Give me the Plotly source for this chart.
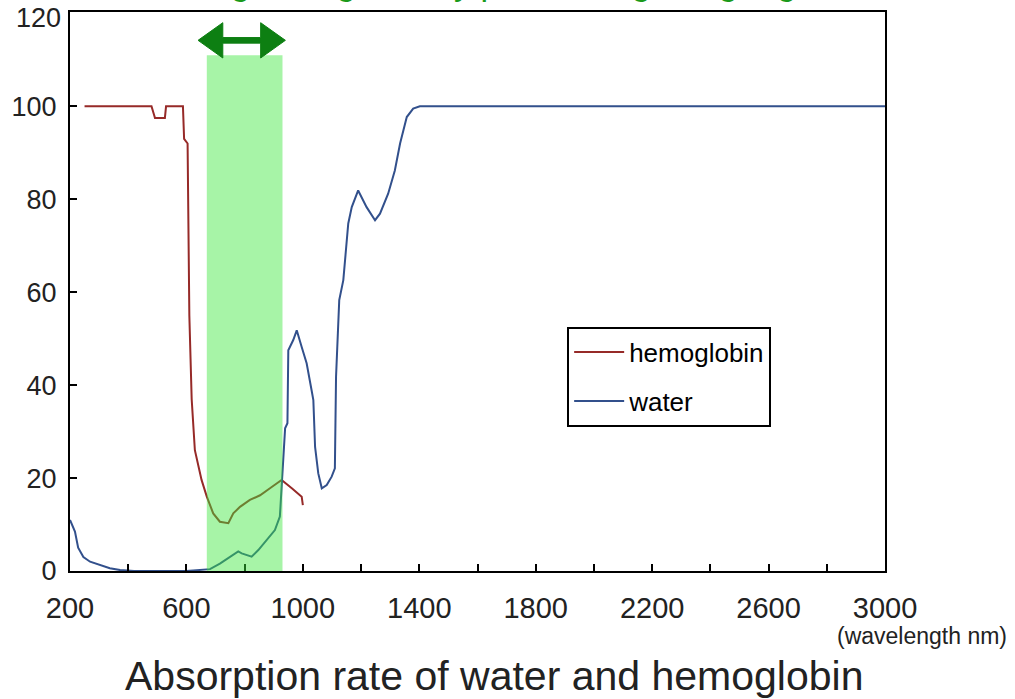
import plotly.graph_objects as go

# ---------------- data ----------------
hemo_x = [250, 480, 492, 526, 530, 588, 592, 604, 610, 618, 629, 652, 670, 692, 715, 744,
          761, 784, 818, 853, 887, 927, 962, 996, 1000]
hemo_y = [100, 100, 97.5, 97.5, 100, 100, 93, 92, 55, 37, 26, 19.6, 16, 12.4, 10.6, 10.3,
          12.4, 13.8, 15.3, 16.3, 17.8, 19.6, 17.8, 16, 14.2]

water_x = [200, 210, 217, 228, 246, 269, 303, 337, 372, 420, 600, 681, 715, 750, 778, 790,
           824, 847, 876, 904, 921, 927, 933, 939, 947, 950, 967, 979, 996, 1013, 1030, 1036,
           1042, 1053, 1065, 1082, 1099, 1110, 1114, 1125, 1139, 1156, 1168, 1190, 1219, 1248,
           1265, 1293, 1316, 1334, 1357, 1379, 1402, 3000]
water_y = [11, 9.5, 8.5, 5, 3, 2, 1.3, 0.6, 0.2, 0, 0, 0.4, 1.6, 3.1, 4.2, 3.8,
           3.1, 4.5, 6.7, 8.8, 11.7, 18.1, 23.9, 30.7, 31.8, 47.5, 49.7, 51.8, 48.2, 44.7, 38.9, 36.8,
           26.7, 21, 17.8, 18.5, 20.3, 22.1, 41.8, 58.3, 62.6, 74.8, 78.3, 81.9, 78.3, 75.5,
           76.9, 81.2, 86.2, 92, 97.7, 99.5, 100, 100]

x_tickvals = list(range(200, 3001, 200))
x_ticktext = ["200", "", "600", "", "1000", "", "1400", "", "1800", "", "2200", "", "2600", "", "3000"]
y_tickvals = [0, 20, 40, 60, 80, 100, 120]

series_names = ["hemoglobin", "water"]

# highlighted wavelength band (nm) and its top
band_start, band_end, band_top = 670, 930, 111
# double arrow above the band
arrow_left, arrow_right, arrow_y = 640, 940, 114.2
head_len, head_half, shaft_half = 85, 3.8, 0.6

title_text = "Absorption rate of water and hemoglobin"
unit_text = "(wavelength nm)"
top_text = "Wavelength range easily penetrating living organisms"

# ---------------- figure ----------------
fig = go.Figure()
fig.add_trace(go.Scatter(x=hemo_x, y=hemo_y, mode="lines", name=series_names[0],
                         line=dict(color="#962a28", width=2), legendgroup="a"))
fig.add_trace(go.Scatter(x=water_x, y=water_y, mode="lines", name=series_names[1],
                         line=dict(color="#32508c", width=2), legendgroup="b"))

# green band overlay
fig.add_shape(type="rect", xref="x", yref="y", x0=band_start, x1=band_end, y0=0, y1=band_top,
              fillcolor="rgba(60,230,60,0.45)", line=dict(width=0), layer="above")

L, R, Y = arrow_left, arrow_right, arrow_y
path = (f"M {L},{Y} L {L+head_len},{Y+head_half} L {L+head_len},{Y+shaft_half} "
        f"L {R-head_len},{Y+shaft_half} L {R-head_len},{Y+head_half} L {R},{Y} "
        f"L {R-head_len},{Y-head_half} L {R-head_len},{Y-shaft_half} "
        f"L {L+head_len},{Y-shaft_half} L {L+head_len},{Y-head_half} Z")
fig.add_shape(type="path", xref="x", yref="y", path=path, fillcolor="#0d7f12",
              line=dict(color="#0d7f12", width=1), layer="above")

font_family = "Liberation Sans, Arial, sans-serif"

fig.update_layout(
    width=1015, height=699,
    margin=dict(l=70, r=130, t=12, b=128, autoexpand=False),
    paper_bgcolor="white", plot_bgcolor="white",
    showlegend=True,
    legend=dict(x=0.61, y=0.437, xanchor="left", yanchor="top",
                bgcolor="white", bordercolor="black", borderwidth=2,
                font=dict(family=font_family, size=26, color="black"),
                tracegroupgap=12, traceorder="grouped", itemwidth=50),
    font=dict(family=font_family, color="#222"),
)

fig.update_xaxes(range=[200, 3000], tickvals=x_tickvals, ticktext=x_ticktext,
                 ticks="inside", ticklen=7, tickwidth=2, tickcolor="black",
                 showline=True, linecolor="black", linewidth=2, mirror=True,
                 showgrid=False, zeroline=False, ticklabelstandoff=10, automargin=False,
                 tickfont=dict(size=29, family=font_family, color="#222"))
fig.update_yaxes(range=[0, 120.3], tickvals=y_tickvals[:-1],
                 ticks="inside", ticklen=7, tickwidth=2, tickcolor="black",
                 showline=True, linecolor="black", linewidth=2, mirror=True,
                 showgrid=False, zeroline=False, ticklabelstandoff=6, automargin=False,
                 tickfont=dict(size=27, family=font_family, color="#222"))

# top y tick label (plotly hides it at the plot edge)
fig.add_annotation(text=str(y_tickvals[-1]), xref="paper", yref="y", x=0, y=y_tickvals[-1],
                   xanchor="right", yanchor="middle", xshift=-7, yshift=-5, showarrow=False,
                   font=dict(size=27, family=font_family, color="#222"))

fig.add_annotation(text=unit_text, xref="paper", yref="paper", x=1.152, y=-0.117,
                   xanchor="right", yanchor="middle", showarrow=False,
                   font=dict(size=23, family=font_family, color="#222"))
fig.add_annotation(text=title_text, xref="paper", yref="paper", x=0.52, y=-0.188,
                   xanchor="center", yanchor="middle", showarrow=False,
                   font=dict(size=41, family=font_family, color="#222"))
fig.add_annotation(text=top_text, xref="paper", yref="paper", x=0.53, y=1.052,
                   xanchor="center", yanchor="middle", showarrow=False,
                   font=dict(size=34, family=font_family, color="#1a9a1a"))

fig.write_html("out.html")
